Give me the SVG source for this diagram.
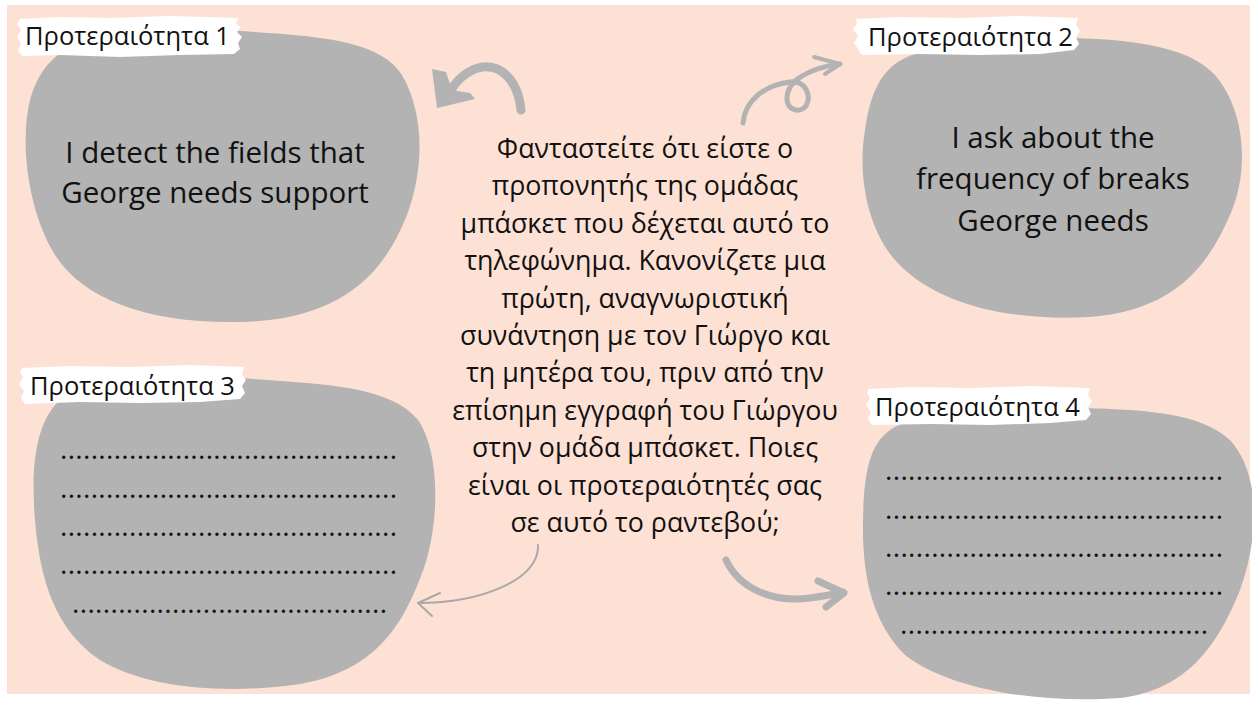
<svg xmlns="http://www.w3.org/2000/svg" width="1252" height="702" viewBox="0 0 1252 702">
<style>
.blob{fill:#b3b3b3}
.brush{fill:#ffffff}
.lbl{font-family:"Open Sans","Noto Sans",sans-serif;font-size:25.5px;fill:#111111}
.body{font-family:"Open Sans","Noto Sans",sans-serif;font-size:29.5px;fill:#111111;text-anchor:middle}
.center{font-family:"Open Sans","Noto Sans",sans-serif;font-size:26.8px;fill:#111111;text-anchor:middle}
.dots{font-family:"Open Sans","Noto Sans",sans-serif;font-size:28px;fill:#111111}
.thick{fill:none;stroke:#b3b3b3;stroke-linecap:round;stroke-linejoin:round}
</style>
<rect x="0" y="0" width="1252" height="702" fill="#ffffff"/>
<rect x="7" y="5" width="1243" height="689" fill="#fee1d5"/>

<g id="node-p1">
<path class="blob" d="M240,31 C320,36 380,40 402,75 C425,115 424,170 407,215 C387,265 350,320 240,322 C150,324 80,300 52,250 C27,205 20,140 30,100 C40,65 60,45 100,38 C150,30 200,29 240,31 Z"/>
<path class="brush" d="M20,19 L60,17 L110,18 L170,16 L238,18 L236,24 L241,27 L237,32 L242,37 L238,43 L240,49 L234,54 L180,55 L120,57 L60,55 L22,56 L18,50 L21,44 L17,37 L21,30 L17,24 Z"/>
<text class="lbl" x="25" y="45">Προτεραιότητα 1</text>
<text class="body" x="215" y="163">I detect the fields that</text>
<text class="body" x="215" y="203">George needs support</text>
</g>

<g id="node-p2">
<path class="blob" d="M1073,38 C1140,40 1190,48 1215,75 C1245,110 1250,170 1230,215 C1210,260 1180,310 1090,317 C1000,322 930,300 895,260 C865,225 858,170 865,130 C870,95 880,70 905,58 C940,42 1010,36 1073,38 Z"/>
<path class="brush" d="M856,19 L900,17 L960,18 L1020,16 L1078,18 L1076,25 L1080,31 L1076,37 L1079,44 L1074,50 L1040,54 L980,55 L920,54 L862,55 L858,49 L854,43 L858,36 L853,29 L857,24 Z"/>
<text class="lbl" x="868" y="46">Προτεραιότητα 2</text>
<text class="body" x="1053" y="148">I ask about the</text>
<text class="body" x="1053" y="189">frequency of breaks</text>
<text class="body" x="1053" y="231">George needs</text>
</g>

<g id="node-p3">
<path class="blob" d="M240,378 C320,384 390,385 418,420 C440,452 440,520 424,568 C405,620 380,670 300,684 C230,694 150,690 100,660 C55,630 40,580 35,520 C30,460 38,420 60,400 C90,378 170,374 240,378 Z"/>
<path class="brush" d="M22,368 L70,366 L130,367 L190,365 L244,367 L242,374 L246,380 L242,386 L245,393 L240,399 L200,402 L140,403 L80,402 L25,404 L21,398 L24,391 L19,384 L23,377 L20,372 Z"/>
<text class="lbl" x="30" y="395">Προτεραιότητα 3</text>
<text class="dots" x="60" y="459" textLength="337" lengthAdjust="spacing">............................................</text>
<text class="dots" x="60" y="498" textLength="337" lengthAdjust="spacing">............................................</text>
<text class="dots" x="60" y="536" textLength="337" lengthAdjust="spacing">............................................</text>
<text class="dots" x="60" y="574" textLength="337" lengthAdjust="spacing">............................................</text>
<text class="dots" x="72" y="613" textLength="315" lengthAdjust="spacing">.........................................</text>
</g>

<g id="node-p4">
<path class="blob" d="M1083,408 C1150,410 1200,413 1230,440 C1262,475 1258,540 1240,590 C1220,640 1190,690 1120,698 C1040,704 950,690 905,655 C870,620 862,570 863,520 C864,470 870,445 890,430 C920,410 1010,405 1083,408 Z"/>
<path class="brush" d="M868,389 L910,387 L970,388 L1030,386 L1090,388 L1088,395 L1092,401 L1088,407 L1091,414 L1086,420 L1050,423 L990,425 L930,424 L872,425 L868,419 L871,412 L866,405 L870,398 L867,393 Z"/>
<text class="lbl" x="875" y="416">Προτεραιότητα 4</text>
<text class="dots" x="885" y="480" textLength="338" lengthAdjust="spacing">............................................</text>
<text class="dots" x="885" y="519" textLength="338" lengthAdjust="spacing">............................................</text>
<text class="dots" x="885" y="557" textLength="338" lengthAdjust="spacing">............................................</text>
<text class="dots" x="885" y="595" textLength="338" lengthAdjust="spacing">............................................</text>
<text class="dots" x="900" y="634" textLength="308" lengthAdjust="spacing">........................................</text>
</g>

<g id="node-center">
<text class="center" x="645" y="158">Φανταστείτε ότι είστε ο</text>
<text class="center" x="645" y="195">προπονητής της ομάδας</text>
<text class="center" x="645" y="233">μπάσκετ που δέχεται αυτό το</text>
<text class="center" x="645" y="270">τηλεφώνημα. Κανονίζετε μια</text>
<text class="center" x="645" y="308">πρώτη, αναγνωριστική</text>
<text class="center" x="645" y="345">συνάντηση με τον Γιώργο και</text>
<text class="center" x="645" y="382">τη μητέρα του, πριν από την</text>
<text class="center" x="645" y="420">επίσημη εγγραφή του Γιώργου</text>
<text class="center" x="645" y="457">στην ομάδα μπάσκετ. Ποιες</text>
<text class="center" x="645" y="495">είναι οι προτεραιότητές σας</text>
<text class="center" x="645" y="532">σε αυτό το ραντεβού;</text>
</g>

<g id="connectors">
<path class="thick" stroke-width="9" d="M521,110 C518,80 500,62 478,68 C465,72 455,82 450,92"/>
<path fill="#b3b3b3" d="M432,69 L437,108 L475,99 L470,93 L452,90 L446,72 Z"/>
<path class="thick" stroke-width="5" d="M743,123 C745,100 765,85 790,82 C805,80 812,95 806,106 C800,114 786,110 787,97 C788,80 810,68 840,64"/>
<path class="thick" stroke-width="4" d="M814,57 L840,64 L825,74"/>
<path fill="none" stroke="#a9a9a9" stroke-width="2" stroke-linecap="round" d="M538,545 C540,580 480,603 418,603"/>
<path fill="none" stroke="#a9a9a9" stroke-width="2" stroke-linecap="round" stroke-linejoin="round" d="M440,593 L418,603 L432,616"/>
<path class="thick" stroke-width="7" d="M726,560 C740,590 775,603 810,598 C825,596 835,594 843,592"/>
<path class="thick" stroke-width="7" d="M818,581 L844,593 L826,607"/>
</g>
</svg>
